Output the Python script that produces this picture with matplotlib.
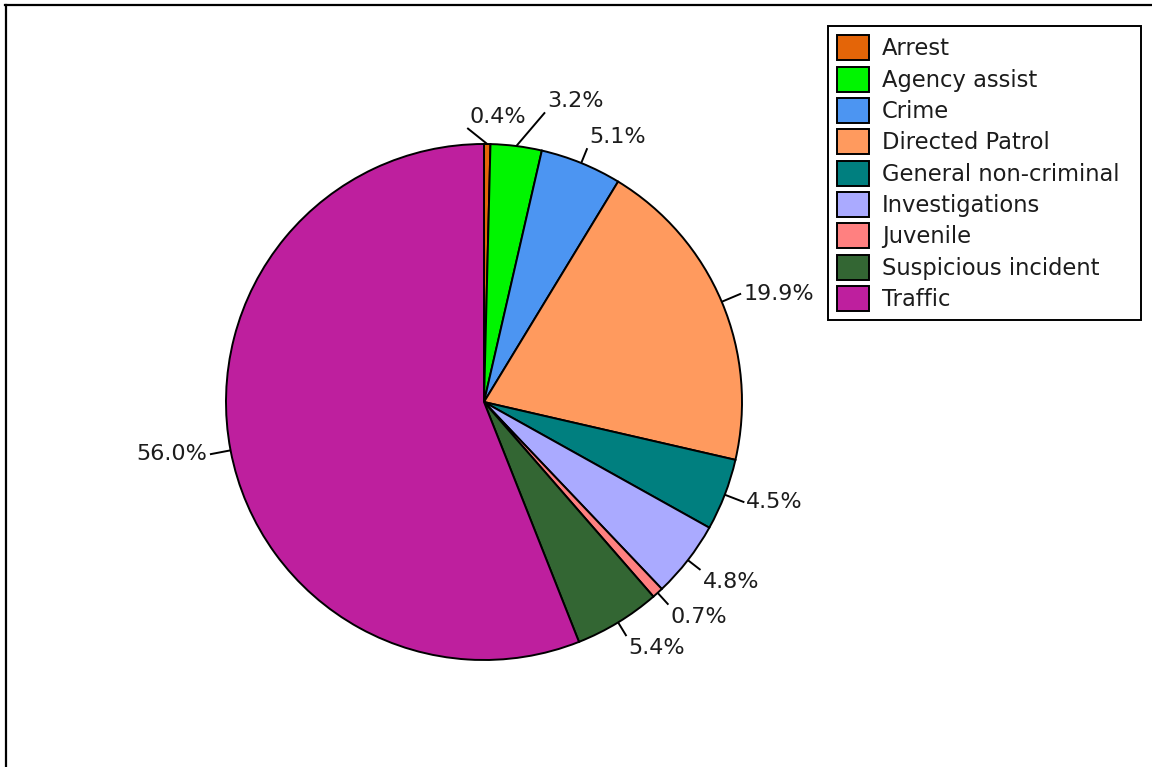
import matplotlib
matplotlib.use("Agg")
import matplotlib.pyplot as plt
import numpy as np
from matplotlib.lines import Line2D

# Call categories and their share of all calls (percent)
categories = ["Arrest", "Agency assist", "Crime", "Directed Patrol",
              "General non-criminal", "Investigations", "Juvenile",
              "Suspicious incident", "Traffic"]
shares = [0.4, 3.2, 5.1, 19.9, 4.5, 4.8, 0.7, 5.4, 56.0]
colors = ["#E46508", "#00F500", "#4C95F2", "#FF9A5E", "#007F7F",
          "#AAAAFF", "#FF8080", "#336633", "#BE1F9E"]

W, H, DPI = 1152, 767, 100
fig = plt.figure(figsize=(W / DPI, H / DPI), dpi=DPI)
fig.patch.set_facecolor("white")
plt.rcParams["font.family"] = ["DejaVu Sans"]
FS = 16
LEG_FS = 16.3
TXT = "#1c1c1c"

# Outer frame (top and left edges)
fig.add_artist(Line2D([5 / W, 1.0], [1 - 4.5 / H, 1 - 4.5 / H],
                      transform=fig.transFigure, color="black", lw=1.6))
fig.add_artist(Line2D([5.5 / W, 5.5 / W], [0.0, 1 - 4.5 / H],
                      transform=fig.transFigure, color="black", lw=1.6))

# Pie axes: centre (484, 402) px, radius 258 px
cx, cy, R = 484, 402, 258
ax = fig.add_axes([(cx - R) / W, (H - cy - R) / H, 2 * R / W, 2 * R / H])
wedges, _ = ax.pie(shares, colors=colors, startangle=90, counterclock=False,
                   radius=1.0,
                   wedgeprops=dict(edgecolor="black", linewidth=1.4))
ax.set_xlim(-1, 1)
ax.set_ylim(-1, 1)
ax.axis("off")

# Leader lines and percentage labels
px = 1.0 / R
# label end-points nudged apart for the two thin slices at the top
nudged = {0: (93.5, 274.5 * px), 1: (78.1, 296 * px)}
cum = 0.0
for i, v in enumerate(shares):
    mid = np.deg2rad(90 - (cum + v / 2) * 3.6)
    cum += v
    sx, sy = np.cos(mid), np.sin(mid)
    ha = "right" if sx < -0.3 else "left"
    if sy > 0.5:
        va = "bottom"
    elif sy < -0.5:
        va = "top"
    else:
        va = "center"
    leader = (21 if va == "center" else 16) * px
    if i in nudged:
        ang, rr = nudged[i]
        ex, ey = rr * np.cos(np.deg2rad(ang)), rr * np.sin(np.deg2rad(ang))
    else:
        ex, ey = (1 + leader) * sx, (1 + leader) * sy
    ax.plot([sx, ex], [sy, ey], color="black", lw=1.4, clip_on=False,
            solid_capstyle="butt")
    dx = -3 * px if ha == "right" else 2 * px
    dy = 0.0 if va == "center" else (1 * px if va == "bottom" else -2 * px)
    ax.text(ex + dx, ey + dy, f"{v:.1f}%", ha=ha, va=va, fontsize=FS,
            color=TXT, clip_on=False)

leg = fig.legend(wedges, categories, loc="upper left",
                 bbox_to_anchor=(828 / W, (H - 321) / H, 313 / W, 295 / H),
                 bbox_transform=fig.transFigure, borderaxespad=0,
                 mode="expand",
                 frameon=True, fancybox=False, framealpha=1,
                 edgecolor="black", fontsize=LEG_FS, handlelength=1.41,
                 handleheight=1.322, handletextpad=0.57, labelspacing=0.276,
                 borderpad=0.41)
leg.get_frame().set_linewidth(1.4)
for t in leg.get_texts():
    t.set_color(TXT)

fig.savefig("out.png", dpi=DPI, facecolor="white")
